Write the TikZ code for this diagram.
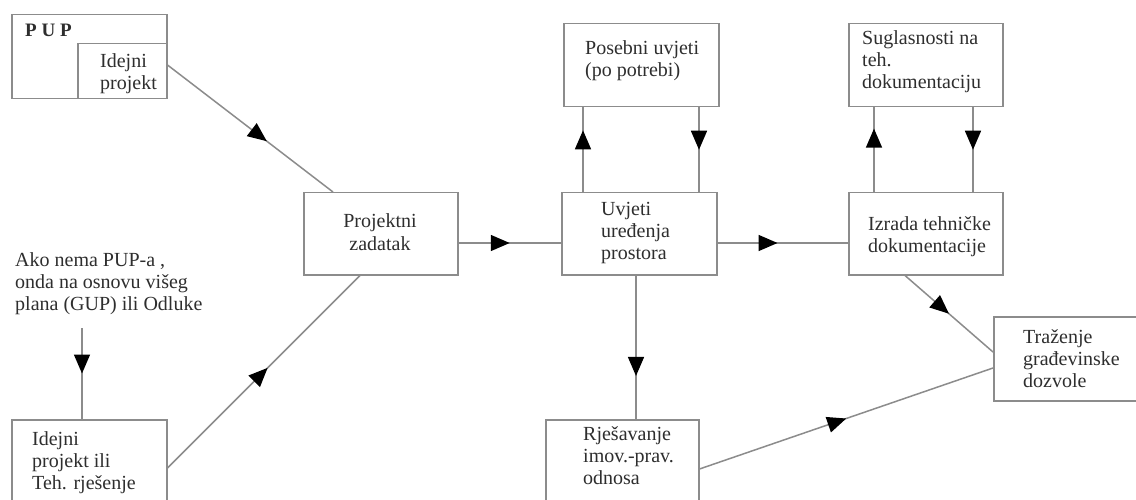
\documentclass[tikz,border=0pt]{standalone}
\usepackage{fontspec}
\setmainfont{Liberation Serif}
\usetikzlibrary{arrows.meta,decorations.markings,calc}
\definecolor{linegray}{gray}{0.55}
\definecolor{textgray}{gray}{0.18}
\begin{document}
\begin{tikzpicture}[x=1pt,y=-1pt,
  box/.style={draw=linegray, line width=1.5pt, rectangle, anchor=north west, inner sep=0pt},
  txt/.style={anchor=base west, align=left, inner sep=0pt, font=\fontsize{20}{22}\selectfont, text=textgray},
  conn/.style={draw=linegray, line width=1.5pt},
  midarrow/.style={postaction={decorate,decoration={markings,mark=at position #1 with {\arrow[black]{Triangle[length=19pt,width=16pt]}}}}}
]
\useasboundingbox[fill=white] (0,0) rectangle (1136,500);

% boxes
\node[box, minimum width=155pt, minimum height=84pt] (pup) at (11,14) {};
\node[box, minimum width=89pt, minimum height=55pt] (pupin) at (77,43) {};
\node[box, minimum width=154pt, minimum height=82pt] (pz) at (303,192) {};
\node[box, minimum width=155pt, minimum height=82pt] (uup) at (561,192) {};
\node[box, minimum width=155pt, minimum height=83pt] (pos) at (563,23) {};
\node[box, minimum width=154pt, minimum height=82pt] (izr) at (848,192) {};
\node[box, minimum width=154pt, minimum height=83pt] (sug) at (848,23) {};
\node[box, minimum width=160pt, minimum height=84pt] (tra) at (993,316) {};
\node[box, minimum width=155pt, minimum height=95pt] (ide) at (11,419) {};
\node[box, minimum width=153pt, minimum height=95pt] (rje) at (545,419) {};

% texts (base = baseline of the last line)
\node[txt, font=\fontsize{19}{22}\selectfont\bfseries] (tpup) at (25,37) {P U P};
\node[txt] (tpupin) at (100,90) {Idejni\\projekt};
\node[txt] (tako) at (15,310) {Ako nema PUP-a ,\\onda na osnovu višeg\\plana (GUP) ili Odluke};
\node[txt, anchor=base, align=center] (tpz) at (380,250) {Projektni\\zadatak};
\node[txt] (tuup) at (601,259) {Uvjeti\\uređenja\\prostora};
\node[txt] (tpos) at (585,77) {Posebni uvjeti\\(po potrebi)};
\node[txt] (tsug) at (862,89) {Suglasnosti na\\teh.\\dokumentaciju};
\node[txt] (tizr) at (868,252) {Izrada tehničke\\dokumentacije};
\node[txt] (ttra) at (1023,387) {Traženje\\građevinske\\dozvole};
\node[txt] (tide) at (32,489) {Idejni\\projekt ili\\Teh. rješenje};
\node[txt] (trje) at (583,484) {Rješavanje\\imov.-prav.\\odnosa};

% helper coordinates
\coordinate (ak) at (82,328);
\coordinate (u1) at ($(uup.north west)+(22,0)$);
\coordinate (u2) at ($(pos.south west)+(136,0)$);
\coordinate (i1) at ($(izr.north west)+(26,0)$);
\coordinate (i2) at ($(sug.south west)+(125,0)$);
\coordinate (u3) at ($(uup.south west)+(75,0)$);

% connectors
\draw[conn, midarrow=0.6] ($(pupin.north east)+(0,22)$) -- ($(pz.north west)+(30,0)$);
\draw[conn, midarrow=0.52] ($(ide.north east)+(0,49)$) -- ($(pz.south west)+(57,0)$);
\draw[conn, midarrow=0.5] (ak) -- (ak |- ide.north);
\draw[conn, midarrow=0.5] ($(pz.north east)+(0,51)$) -- ($(uup.north west)+(0,51)$);
\draw[conn, midarrow=0.73] (u1) -- (u1 |- pos.south);
\draw[conn, midarrow=0.5] (u2) -- (u2 |- uup.north);
\draw[conn, midarrow=0.46] ($(uup.north east)+(0,51)$) -- ($(izr.north west)+(0,51)$);
\draw[conn, midarrow=0.75] (i1) -- (i1 |- sug.south);
\draw[conn, midarrow=0.5] (i2) -- (i2 |- izr.north);
\draw[conn, midarrow=0.5] ($(izr.south west)+(57,0)$) -- ($(tra.north west)+(0,36)$);
\draw[conn, midarrow=0.7] (u3) -- (u3 |- rje.north);
\draw[conn, midarrow=0.5] ($(rje.north east)+(0,50)$) -- ($(tra.north west)+(0,52)$);
\end{tikzpicture}
\end{document}
